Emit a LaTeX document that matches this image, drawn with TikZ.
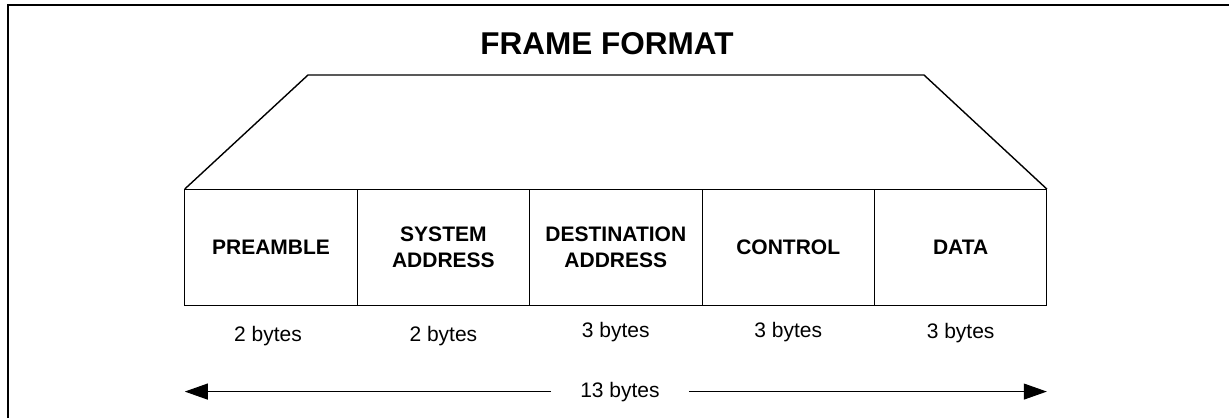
\documentclass[tikz,border=0pt]{standalone}
\usepackage{fontspec}
\setmainfont{Liberation Sans}
\usetikzlibrary{positioning,arrows.meta}
\tikzset{
  field/.style={draw, line width=1pt, outer sep=0pt, inner sep=0pt,
    minimum width=172.4pt, minimum height=116pt, align=center,
    font=\bfseries\fontsize{21}{26}\selectfont},
  sizelbl/.style={anchor=base, font=\fontsize{21}{24}\selectfont}
}
\begin{document}
\begin{tikzpicture}[x=1pt, y=-1pt]
      \useasboundingbox (0,0) rectangle (1229,418);
      \draw [line width=2pt] (8,418) -- (8,5) -- (1229,5);
      \node [font=\bfseries\fontsize{31.5}{36}\selectfont, anchor=base] (title) at (607,54) {FRAME FORMAT};
      \node [field] (pre) at (271,247) {PREAMBLE};
      \node [field, right=0pt of pre] (sys) {SYSTEM\\ADDRESS};
      \node [field, right=0pt of sys] (dst) {DESTINATION\\ADDRESS};
      \node [field, right=0pt of dst] (ctl) {CONTROL};
      \node [field, right=0pt of ctl] (data) {DATA};
      \coordinate (tl) at (308,75);
      \coordinate (tr) at (924,75);
      \draw [line width=1.4pt, line join=miter] (pre.north west) -- (tl) -- (tr) -- (data.north east);
      \node [sizelbl] (pre-n) at ([xshift=-3pt, yshift=-36pt]pre.south) {2 bytes};
      \node [sizelbl] (sys-n) at ([yshift=-36pt]sys.south) {2 bytes};
      \node [sizelbl] (dst-n) at ([yshift=-32pt]dst.south) {3 bytes};
      \node [sizelbl] (ctl-n) at ([yshift=-32pt]ctl.south) {3 bytes};
      \node [sizelbl] (data-n) at ([yshift=-33pt]data.south) {3 bytes};
      \node [sizelbl, inner xsep=29pt] (total) at (620,397) {13 bytes};
      \draw [line width=1pt, -{Triangle[length=23pt, width=16pt]}] (total.west) -- (pre.south west |- total.west);
      \draw [line width=1pt, -{Triangle[length=23pt, width=16pt]}] (total.east) -- (data.south east |- total.east);
    \end{tikzpicture}
\end{document}
